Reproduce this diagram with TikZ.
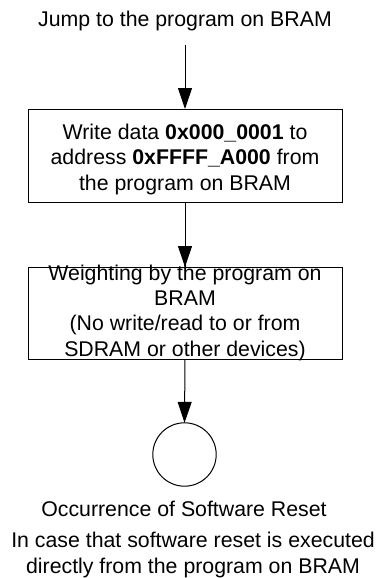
\documentclass[tikz,border=0pt]{standalone}
\usepackage{fontspec}
\setmainfont{Liberation Sans}
\usetikzlibrary{arrows.meta}
\begin{document}
\begin{tikzpicture}[x=1pt,y=-1pt,
  every node/.style={font=\fontsize{21.3}{25.3}\selectfont, inner sep=0pt, outer sep=0pt},
  boxst/.style={draw, line width=1pt, minimum width=314pt},
  txt/.style={anchor=base, align=center},
  flow/.style={draw, line width=1pt, -{Triangle[width=14pt,length=21pt]}},
  endst/.style={draw, circle, line width=1pt, minimum size=63.4pt},
]
\useasboundingbox (0,0) rectangle (378,578);
\node[txt] (top) at (185,27) {Jump to the program on BRAM};
\coordinate (a0) at (185,45);
\node[boxst, minimum height=93pt] (b1) at (185,155.5) {};
\node[txt] (t1) at (185,190) {Write data \textbf{0x000\_0001} to\\address \textbf{0xFFFF\_A000} from\\the program on BRAM};
\node[boxst, minimum height=92pt] (b2) at (185,313) {};
\node[txt] (t2) at (185,356) {Weighting by the program on\\BRAM\\(No write/read to or from\\SDRAM or other devices)};
\node[endst] (c) at (184.5,454.5) {};
\node[txt] (occ) at (184,516) {Occurrence of Software Reset};
\node[txt] (note) at (193,573) {In case that software reset is executed\\directly from the program on BRAM};
\draw[flow] (a0) -- (b1.north);
\draw[flow] (b1.south) -- (b2.north);
\draw[flow] (b2.south) -- (c.north);
\end{tikzpicture}
\end{document}
